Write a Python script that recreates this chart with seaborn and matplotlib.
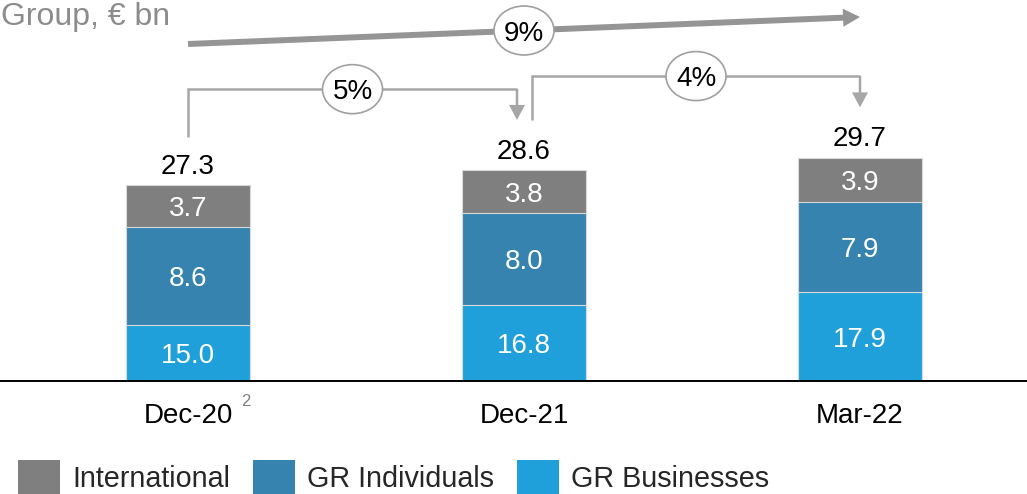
import matplotlib
matplotlib.use("Agg")
import matplotlib.pyplot as plt
import seaborn as sns
import pandas as pd
from matplotlib.patches import Ellipse, Patch, FancyArrowPatch

# ---- data ----
periods = ["Dec-20", "Dec-21", "Mar-22"]
gr_businesses = [15.0, 16.8, 17.9]
gr_individuals = [8.6, 8.0, 7.9]
international = [3.7, 3.8, 3.9]
totals = [27.3, 28.6, 29.7]
series_names = ["International", "GR Individuals", "GR Businesses"]
growth_5 = "5%"
growth_4 = "4%"
growth_9 = "9%"
title_text = "Group, € bn"
footnote_mark = "2"

# ---- style ----
sns.set_theme(style="white")
plt.rcParams["font.family"] = ["Liberation Sans", "DejaVu Sans"]

C_INT = "#7F7F7F"
C_IND = "#3783B0"
C_BUS = "#1FA0DA"
C_LINE = "#A6A6A6"
C_ARROW = "#959595"

FS = 20
Y0 = 10.1
PX_PER_UNIT = 11.4
AX_H_PX = 381

fig = plt.figure(figsize=(10.27, 4.94), dpi=100)
ax = fig.add_axes([0, 113 / 494, 1, AX_H_PX / 494])

df = pd.DataFrame({
    "period": periods,
    "bus": gr_businesses,
    "ind": gr_individuals,
    "int": international,
})
df["top_ind"] = df["bus"] + df["ind"]
df["top_int"] = df["top_ind"] + df["int"]

bar_w = 0.37
for col, color in [("top_int", C_INT), ("top_ind", C_IND), ("bus", C_BUS)]:
    sns.barplot(data=df, x="period", y=col, color=color, width=bar_w,
                saturation=1, edgecolor="#d9d9d9", linewidth=0.8,
                errorbar=None, ax=ax)

ax.set_ylim(Y0, Y0 + AX_H_PX / PX_PER_UNIT)
ax.set_xlim(-188 / 336, 2 + 167 / 336)
ax.set_xlabel("")
ax.set_ylabel("")
ax.set_yticks([])
ax.tick_params(axis="x", length=0, pad=15.5, labelsize=FS, labelcolor="black")
for s in ["left", "top", "right"]:
    ax.spines[s].set_visible(False)
ax.spines["bottom"].set_color("black")
ax.spines["bottom"].set_linewidth(1.4)
ax.grid(False)

# segment labels
for i in range(len(periods)):
    b = gr_businesses[i]
    ind = gr_individuals[i]
    it = international[i]
    segs = [((Y0 + b) / 2, b), (b + ind / 2, ind), (b + ind + it / 2, it)]
    for yc, v in segs:
        ax.text(i, yc, f"{v:.1f}", ha="center", va="center_baseline",
                color="white", fontsize=FS, zorder=10)
    ax.annotate(f"{totals[i]:.1f}", (i, totals[i]), xytext=(0, 8),
                textcoords="offset points", ha="center", va="baseline",
                fontsize=FS, color="black")

# footnote superscript on first tick
ax.annotate(footnote_mark, xy=(0, 0), xycoords=ax.get_xaxis_transform(),
            xytext=(41.8, -9.5), textcoords="offset points", ha="center",
            va="top", fontsize=12, color="#808080")

# ---- growth brackets ----
B1_START, B1_TOP, B1_TIP = 31.5, 35.7, 33.0
B1_RIGHT = 1 - 7 / 336
B2_LEFT = 1 + 8 / 336
B2_START, B2_TOP, B2_TIP = 33.0, 36.85, 34.1
A9_START, A9_END = 39.66, 42.03

lw_b = 1.8
ax.plot([0, 0, B1_RIGHT], [B1_START, B1_TOP, B1_TOP], color=C_LINE,
        lw=lw_b, solid_joinstyle="miter", solid_capstyle="butt", zorder=3)
ax.add_patch(FancyArrowPatch((B1_RIGHT, B1_TOP), (B1_RIGHT, B1_TIP),
             arrowstyle="simple,head_length=10.8,head_width=11.5,tail_width=1.8",
             mutation_scale=1, color=C_LINE, lw=0, shrinkA=0, shrinkB=0, zorder=3))
ax.plot([B2_LEFT, B2_LEFT, 2], [B2_START, B2_TOP, B2_TOP], color=C_LINE,
        lw=lw_b, solid_joinstyle="miter", solid_capstyle="butt", zorder=3)
ax.add_patch(FancyArrowPatch((2, B2_TOP), (2, B2_TIP),
             arrowstyle="simple,head_length=10.8,head_width=11.5,tail_width=1.8",
             mutation_scale=1, color=C_LINE, lw=0, shrinkA=0, shrinkB=0, zorder=3))
ax.add_patch(FancyArrowPatch((0, A9_START), (2, A9_END),
             arrowstyle="simple,head_length=12.2,head_width=13,tail_width=4.3",
             mutation_scale=1, color=C_ARROW, lw=0, shrinkA=0, shrinkB=0, zorder=3))

ew, eh = 60 / 336, 49 / PX_PER_UNIT
for (xc, yc, lab) in [((0 + B1_RIGHT) / 2, B1_TOP, growth_5),
                      ((B2_LEFT + 2) / 2, B2_TOP, growth_4),
                      (1.0, (A9_START + A9_END) / 2, growth_9)]:
    ax.add_patch(Ellipse((xc, yc), ew, eh, facecolor="white",
                         edgecolor="#A0A0A0", lw=1.2, zorder=5))
    ax.text(xc, yc, lab, ha="center", va="center_baseline", fontsize=FS,
            color="black", zorder=6)

# title (kept fully inside the canvas)
fig.text(0.001, 1 - 25 / 494, title_text, fontsize=23, color="#8C8C8C",
         ha="left", va="baseline")

# legend
LFS = 20.7
handles = [Patch(facecolor=c, edgecolor="none", label=n)
           for c, n in zip([C_INT, C_IND, C_BUS], series_names)]
fig.legend(handles=handles, loc="upper left",
           bbox_to_anchor=(18 / 1027, 1 - 460 / 494), ncol=3, frameon=False,
           fontsize=LFS, handlelength=1.46, handleheight=1.49,
           handletextpad=0.42, columnspacing=0.8, borderpad=0,
           borderaxespad=0)

fig.savefig("out.png", dpi=100)
